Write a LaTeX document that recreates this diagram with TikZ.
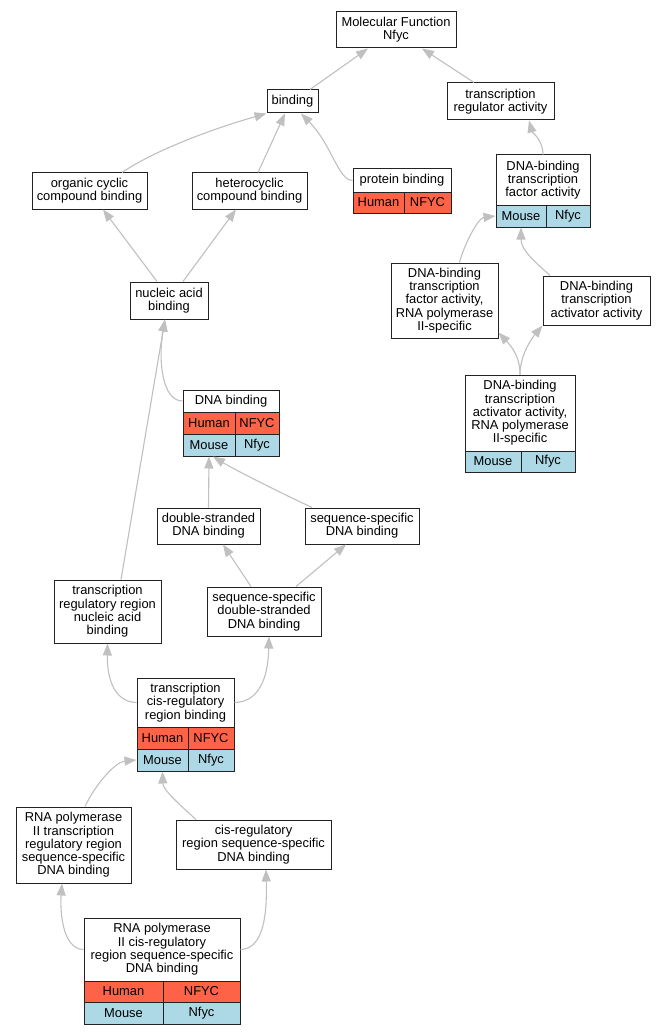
\documentclass[tikz,border=0pt]{standalone}
\usepackage{fontspec}
\setmainfont{Liberation Sans}
\usetikzlibrary{arrows.meta,calc}
\definecolor{human}{HTML}{FF6347}
\definecolor{mouse}{HTML}{ADD8E6}
\definecolor{edgec}{HTML}{C0C0C0}
\definecolor{bord}{HTML}{222222}
\begin{document}
\begin{tikzpicture}[x=1pt,y=-1pt,
  box/.style={draw=bord, line width=1pt, fill=white, inner sep=0pt, align=center,
    font=\fontsize{12.9}{13.3}\selectfont},
  hum/.style={box, fill=human},
  mou/.style={box, fill=mouse},
  edg/.style={draw=edgec, line width=1.1pt, -{Triangle[length=12pt,width=9pt]}},
]
\useasboundingbox (0,0) rectangle (665,1035);
\fill[white] (0,0) rectangle (665,1035);

% plain boxes
\node[box, minimum width=120pt, minimum height=36pt] (mf) at (396,30) {Molecular Function\\Nfyc};
\node[box, minimum width=51pt, minimum height=23pt] (bind) at (292.5,101.5) {binding};
\node[box, minimum width=107pt, minimum height=37pt] (tra) at (500.5,101.5) {transcription\\regulator activity};
\node[box, minimum width=115pt, minimum height=36pt] (occb) at (89.5,191) {organic cyclic\\compound binding};
\node[box, minimum width=115pt, minimum height=36pt] (hcb) at (249.5,191) {heterocyclic\\compound binding};
\node[box, minimum width=78pt, minimum height=37pt] (nab) at (169,300.5) {nucleic acid\\binding};
\node[box, minimum width=107pt, minimum height=75pt] (dbtfa2) at (444.5,300.5) {DNA-binding\\transcription\\factor activity,\\RNA polymerase\\II-specific};
\node[box, minimum width=107pt, minimum height=49pt] (dbtaa) at (596.5,300.5) {DNA-binding\\transcription\\activator activity};
\node[box, minimum width=103pt, minimum height=36pt] (ds) at (208.5,526) {double-stranded\\DNA binding};
\node[box, minimum width=114pt, minimum height=36pt] (ss) at (362,526) {sequence-specific\\DNA binding};
\node[box, minimum width=107pt, minimum height=63pt] (trr) at (107.5,611.5) {transcription\\regulatory region\\nucleic acid\\binding};
\node[box, minimum width=114pt, minimum height=49pt] (ssds) at (264,611.5) {sequence-specific\\double-stranded\\DNA binding};
\node[box, minimum width=115pt, minimum height=76pt] (rtrr) at (73.5,845) {RNA polymerase\\II transcription\\regulatory region\\sequence-specific\\DNA binding};
\node[box, minimum width=155pt, minimum height=49pt] (crss) at (253.5,844.5) {cis-regulatory\\region sequence-specific\\DNA binding};

% protein binding
\node[box, minimum width=98pt, minimum height=23pt] (pb) at (402,180.5) {protein binding};
\node[hum, minimum width=51pt, minimum height=21pt] (pbh) at (378.5,202.5) {Human};
\node[hum, minimum width=47pt, minimum height=21pt] (pbg) at (427.5,202.5) {NFYC};

% DNA-binding transcription factor activity
\node[box, minimum width=94pt, minimum height=50pt] (dbtfa) at (543,180) {DNA-binding\\transcription\\factor activity};
\node[mou, minimum width=50pt, minimum height=22pt] (dbtfam) at (521,216) {Mouse};
\node[mou, minimum width=44pt, minimum height=22pt] (dbtfag) at (568,216) {Nfyc};

% DNA-binding transcription activator activity, RNA pol II
\node[box, minimum width=110pt, minimum height=76pt] (dbtaa2) at (520,413) {DNA-binding\\transcription\\activator activity,\\RNA polymerase\\II-specific};
\node[mou, minimum width=56pt, minimum height=21pt] (dbtaa2m) at (493,461.5) {Mouse};
\node[mou, minimum width=54pt, minimum height=21pt] (dbtaa2g) at (548,461.5) {Nfyc};

% DNA binding
\node[box, minimum width=96pt, minimum height=22pt] (dnab) at (231,401) {DNA binding};
\node[hum, minimum width=52pt, minimum height=22pt] (dnabhl) at (209,423) {Human};
\node[hum, minimum width=44pt, minimum height=22pt] (dnabhr) at (257,423) {NFYC};
\node[mou, minimum width=52pt, minimum height=22pt] (dnabml) at (209,445) {Mouse};
\node[mou, minimum width=44pt, minimum height=22pt] (dnabmr) at (257,445) {Nfyc};

% transcription cis-regulatory region binding
\node[box, minimum width=97pt, minimum height=49pt] (tcrb) at (185.5,702.5) {transcription\\cis-regulatory\\region binding};
\node[hum, minimum width=51pt, minimum height=22pt] (tcrbhl) at (162.5,738) {Human};
\node[hum, minimum width=46pt, minimum height=22pt] (tcrbhr) at (211,738) {NFYC};
\node[mou, minimum width=51pt, minimum height=22pt] (tcrbml) at (162.5,760) {Mouse};
\node[mou, minimum width=46pt, minimum height=22pt] (tcrbmr) at (211,760) {Nfyc};

% RNA polymerase II cis-regulatory region sequence-specific DNA binding
\node[box, minimum width=156pt, minimum height=63pt] (rcis) at (162,949.5) {RNA polymerase\\II cis-regulatory\\region sequence-specific\\DNA binding};
\node[hum, minimum width=79pt, minimum height=21pt] (rcishl) at (123.5,991.5) {Human};
\node[hum, minimum width=77pt, minimum height=21pt] (rcishr) at (201.5,991.5) {NFYC};
\node[mou, minimum width=79pt, minimum height=22pt] (rcisml) at (123.5,1013) {Mouse};
\node[mou, minimum width=77pt, minimum height=22pt] (rcismr) at (201.5,1013) {Nfyc};

% edges
\draw[edg] ($(bind.north)+(17.5,0)$) -- ($(mf.south)+(-28,0)$);
\draw[edg] ($(tra.north)+(-26.5,0)$) -- ($(mf.south)+(26,0)$);
\draw[edg] ($(occb.north)+(32.5,0)$) .. controls (155,150) and (215,128) .. (bind.south west);
\draw[edg] ($(hcb.north)+(8.5,0)$) -- ($(bind.south)+(-7.5,0)$);
\draw[edg] (pb.west) .. controls (338,180) and (332,145) .. ($(bind.south)+(8.5,0)$);
\draw[edg] (dbtfa.north) .. controls (543,140) and (532,132) .. ($(tra.south)+(28.5,0)$);
\draw[edg] ($(nab.north)+(-12,0)$) -- ($(occb.south)+(13.5,0)$);
\draw[edg] ($(nab.north)+(14,0)$) -- ($(hcb.south)+(-13.5,0)$);
\draw[edg] ($(dbtfa2.north)+(15,0)$) .. controls (464,245) and (478,218) .. (dbtfam.west);
\draw[edg] ($(dbtaa.north)+(-46.5,0)$) .. controls (535,262) and (521,250) .. (dbtfam.south);
\draw[edg] (dbtaa2.north) .. controls (520,355) and (510,345) .. ($(dbtfa2.south east)+(0,-6)$);
\draw[edg] (dbtaa2.north) .. controls (520,355) and (532,338) .. (dbtaa.south west);
\draw[edg] (dnab.west) .. controls (162,401) and (158,360) .. ($(nab.south)+(-4,0)$);
\draw[edg] ($(trr.north)+(13.5,0)$) -- ($(nab.south)+(-4,0)$);
\draw[edg] (ds.north) -- (dnabml.south);
\draw[edg] ($(ss.north)+(-50,0)$) .. controls (285,495) and (235,470) .. ($(dnabml.south)+(4,0)$);
\draw[edg] ($(ssds.north)+(-13,0)$) -- ($(ds.south)+(14.5,0)$);
\draw[edg] ($(ssds.north)+(32,0)$) -- ($(ss.south)+(-16,0)$);
\draw[edg] (tcrb.west) .. controls (115,702) and (107,680) .. (trr.south);
\draw[edg] (tcrb.east) .. controls (258,702) and (268,680) .. ($(ssds.south)+(5,0)$);
\draw[edg] ($(rtrr.north)+(11.5,0)$) .. controls (95,785) and (115,762) .. (tcrbml.west);
\draw[edg] ($(crss.north)+(-57.5,0)$) .. controls (180,805) and (163,790) .. (tcrbml.south);
\draw[edg] (rcis.west) .. controls (62,949) and (60,910) .. ($(rtrr.south)+(-11.5,0)$);
\draw[edg] (rcis.east) .. controls (265,949) and (267,910) .. ($(crss.south)+(12.5,0)$);
\end{tikzpicture}
\end{document}
